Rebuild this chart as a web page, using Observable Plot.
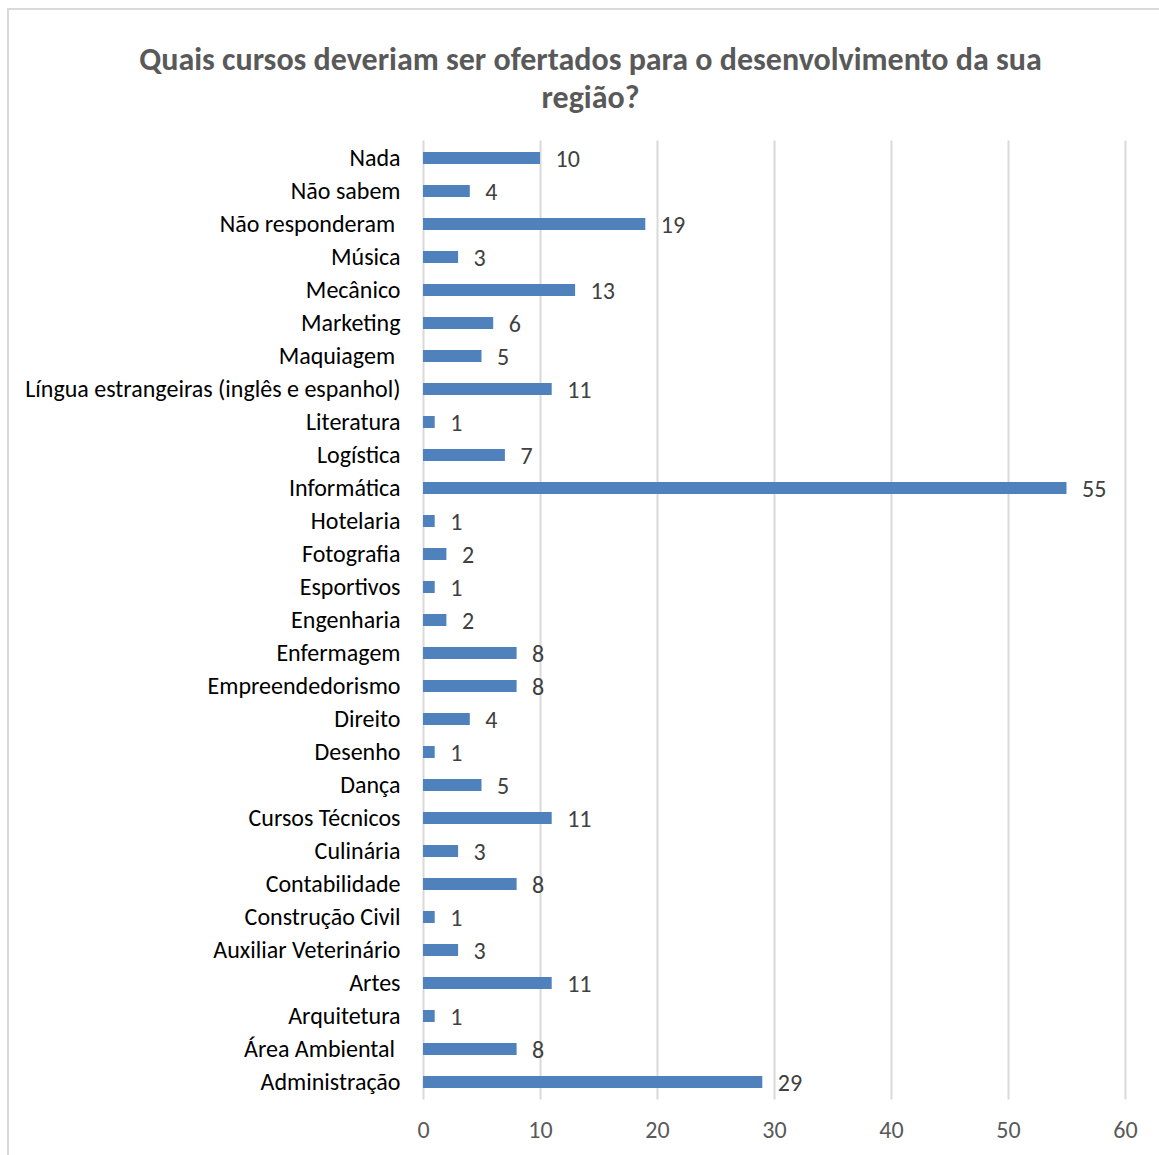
<!DOCTYPE html>
<html>
<head>
<meta charset="utf-8">
<script src="https://cdn.jsdelivr.net/npm/d3@7"></script>
<script src="https://cdn.jsdelivr.net/npm/@observablehq/plot@0.6"></script>
<style>
  html, body { margin: 0; padding: 0; background: #fff; }
  body { width: 1159px; height: 1155px; overflow: hidden; position: relative; font-family: Carlito, "Open Sans", sans-serif; }
  #frame { position: absolute; left: 7px; top: 8px; width: 1170px; height: 1170px; border: 2px solid #d9d9d9; box-sizing: border-box; }
  #title { position: absolute; left: 0; top: 0; width: 1159px; height: 130px; text-align: center; }
  #title div { position: absolute; left: 0; width: 1181px; text-align: center; font-weight: 700; font-size: 32px; line-height: 38px; color: #595959; }
  #chart { position: absolute; left: 0; top: 130px; }
  #chart svg text { white-space: pre; }
</style>
</head>
<body>
<div id="frame"></div>
<div id="title">
  <div style="top:41px">Quais cursos deveriam ser ofertados para o desenvolvimento da sua</div>
  <div style="top:79px">região?</div>
</div>
<div id="chart"></div>
<script>
const categories = [
  "Nada", "Não sabem", "Não responderam ", "Música", "Mecânico", "Marketing", "Maquiagem ",
  "Língua estrangeiras (inglês e espanhol)", "Literatura", "Logística", "Informática", "Hotelaria",
  "Fotografia", "Esportivos", "Engenharia", "Enfermagem", "Empreendedorismo", "Direito", "Desenho",
  "Dança", "Cursos Técnicos", "Culinária", "Contabilidade", "Construção Civil", "Auxiliar Veterinário",
  "Artes", "Arquitetura", "Área Ambiental ", "Administração"
];
const values = [10, 4, 19, 3, 13, 6, 5, 11, 1, 7, 55, 1, 2, 1, 2, 8, 8, 4, 1, 5, 11, 3, 8, 1, 3, 11, 1, 8, 29];
const xTicks = [0, 10, 20, 30, 40, 50, 60];

const data = categories.map((c, i) => ({category: c, value: values[i]}));

const chart = Plot.plot({
  width: 1159,
  height: 1025,
  marginLeft: 423,
  marginRight: 34,
  marginTop: 10.5,
  marginBottom: 55.5,
  style: {fontFamily: 'Carlito, "Open Sans", sans-serif', fontSize: "24px", background: "transparent"},
  x: {domain: [0, 60], ticks: xTicks, label: null},
  y: {domain: categories, paddingInner: 0.65, paddingOuter: 0.325, label: null},
  marks: [
    Plot.ruleX(xTicks, {x: d => d, stroke: "#d9d9d9", strokeWidth: 2}),
    Plot.barX(data, {x: "value", y: "category", fill: "#4f81bd"}),
    Plot.text(data, {x: "value", y: "category", text: d => String(d.value), textAnchor: "start", dx: 15, dy: 1, fill: "#404040", fontSize: 24}),
    Plot.axisX({ticks: xTicks, tickSize: 0, tickPadding: 21, fontSize: 24, color: "#595959", label: null}),
    Plot.axisY({tickSize: 0, tickPadding: 23, fontSize: 24, color: "#000000", label: null})
  ]
});
document.getElementById("chart").appendChild(chart);
</script>
</body>
</html>
